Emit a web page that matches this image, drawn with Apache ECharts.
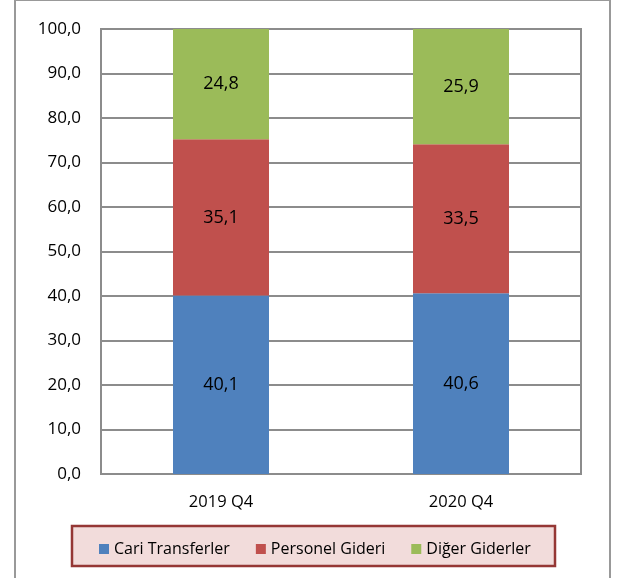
<!DOCTYPE html>
<html><head><meta charset="utf-8">
<script src="https://cdn.jsdelivr.net/npm/echarts@6/dist/echarts.min.js"></script>
<style>html,body{margin:0;padding:0;background:#fff}#c{width:620px;height:578px}</style>
</head><body><div id="c"></div>
<script>
var categories = ['2019 Q4', '2020 Q4'];
var cariTransferler = [40.1, 40.6];
var personelGideri = [35.1, 33.5];
var digerGiderler = [24.8, 25.9];
var seriesNames = ['Cari Transferler', 'Personel Gideri', 'Diğer Giderler'];
var colors = ['#4f81bd', '#c0504d', '#9bbb59'];
var font = 'Open Sans';
var chart = echarts.init(document.getElementById('c'));
function fmt(v){return v.toFixed(1).replace('.', ',');}
function mk(name, data, color){
  return {name:name, type:'bar', stack:'s', data:data, barWidth:96,
    itemStyle:{color:color},
    label:{show:true, position:'inside', color:'#000', fontFamily:font, fontSize:18,
      formatter:function(p){return fmt(p.value);}}};
}
chart.setOption({
  animation:false,
  color:colors,
  grid:{left:101, right:39, top:29, bottom:104, show:true, borderColor:'#8c8c8c', borderWidth:2},
  xAxis:{type:'category', data:categories, axisTick:{show:false}, axisLine:{show:false},
    axisLabel:{color:'#000', fontFamily:font, fontSize:16.5, margin:20}},
  yAxis:{type:'value', min:0, max:100, interval:10,
    axisLine:{show:false}, axisTick:{show:false},
    splitLine:{lineStyle:{color:'#8c8c8c', width:2}},
    axisLabel:{color:'#000', fontFamily:font, fontSize:17, margin:20, formatter:function(v){return fmt(v);}}},
  legend:{data:seriesNames, top:536, left:94, itemWidth:10, itemHeight:10, itemGap:26,
    icon:'rect', textStyle:{color:'#000', fontFamily:font, fontSize:16}},
  graphic:[
    {type:'rect', shape:{x:15, y:0, width:595, height:590}, style:{fill:'none', stroke:'#999', lineWidth:2}, z:-10},
    {type:'rect', shape:{x:72, y:526, width:483, height:40}, style:{fill:'#f2dcdb', stroke:'#953735', lineWidth:2.5}, z:-5}
  ],
  series:[mk(seriesNames[0], cariTransferler, colors[0]), mk(seriesNames[1], personelGideri, colors[1]), mk(seriesNames[2], digerGiderler, colors[2])]
});
</script></body></html>
